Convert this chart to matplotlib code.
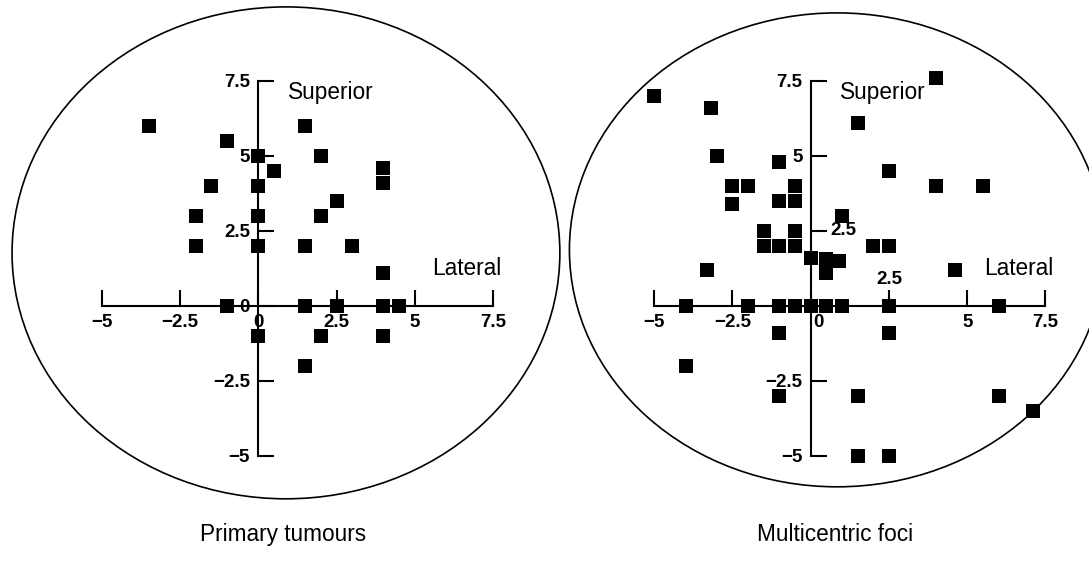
import matplotlib
matplotlib.use('Agg')
import matplotlib.pyplot as plt
from matplotlib.patches import Ellipse

plt.rcParams['font.family'] = ['Liberation Sans', 'DejaVu Sans']

# data (lateral, superior)
primary_x = [-3.5, -1, 0, 0.5, 1.5, 2, 4, 4, -1.5, 0, 2.5, -2, 0, 2, -2, 0, 1.5, 3, 4,
             -1, 1.5, 2.5, 4, 4.5, 0, 2, 4, 1.5]
primary_y = [6, 5.5, 5, 4.5, 6, 5, 4.6, 4.1, 4, 4, 3.5, 3, 3, 3, 2, 2, 2, 2, 1.1,
             0, 0, 0, 0, 0, -1, -1, -1, -2]

multi_x = [-5, -3.2, -3, -2.5, -2, -2.5, -1, -1, -0.5, -0.5, 4, 1.5, 2.5, 4, 5.5, 1,
           -1.5, -1.5, -1, -0.5, -0.5, 2, 2.5, 0, 0.5, 0.5, 0.9, -3.3, 4.6,
           -4, -2, -1, -0.5, 0, 0.5, 1, 2.5, 6,
           -1, 2.5, -4, -1, 1.5, 6, 7.1, 1.5, 2.5]
multi_y = [7, 6.6, 5, 4, 4, 3.4, 4.8, 3.5, 4, 3.5, 7.6, 6.1, 4.5, 4, 4, 3,
           2.5, 2, 2, 2.5, 2, 2, 2, 1.6, 1.55, 1.1, 1.5, 1.2, 1.2,
           0, 0, 0, 0, 0, 0, 0, 0, 0,
           -0.9, -0.9, -2, -3, -3, -3, -3.5, -5, -5]

ticks = [-5, -2.5, 0, 2.5, 5, 7.5]
tick_labels = ['−5', '−2.5', '0', '2.5', '5', '7.5']

TICK_FS = 13.5
TEXT_FS = 16.3

fig = plt.figure(figsize=(10.89, 5.78), dpi=100)


def draw_panel(ax, xs, ys, title, circle_center, circle_size, xlim):
    ax.set_facecolor('none')
    ax.set_xlim(*xlim)
    ax.set_ylim(-9.07, 10.2)
    for side in ['top', 'right']:
        ax.spines[side].set_visible(False)
    for side in ['left', 'bottom']:
        ax.spines[side].set_position(('data', 0))
        ax.spines[side].set_bounds(-5, 7.5)
        ax.spines[side].set_linewidth(1.5)
    ax.set_xticks(ticks)
    ax.set_yticks(ticks)
    ax.tick_params(direction='in', length=11.5, width=1.5, pad=6, labelsize=TICK_FS)

    ax.plot(xs, ys, 's', color='black', ms=10, mew=0, zorder=3, clip_on=False)

    # the outline drawn round each plot
    ax.add_patch(Ellipse(circle_center, circle_size[0], circle_size[1], fill=False,
                         lw=1.2, color='black', clip_on=False))

    ax.text(0.95, 7.12, 'Superior', fontsize=TEXT_FS, va='center', ha='left')
    ax.text(5.55, 1.25, 'Lateral', fontsize=TEXT_FS, va='center', ha='left')
    ax.text(0.78, -7.63, title, fontsize=TEXT_FS, va='center', ha='center')


# 1) left panel
ax1 = fig.add_axes([0, 0, 545 / 1089, 1])
draw_panel(ax1, primary_x, primary_y, 'Primary tumours', (0.885, 1.77), (17.5, 16.4),
           (-8.25, 9.16))
ax1.set_xticklabels(tick_labels, fontweight='bold')
ax1.set_yticklabels(tick_labels, fontweight='bold')

# 2) right panel (some labels sit oddly in the original)
ax2 = fig.add_axes([545 / 1089, 0, 544 / 1089, 1])
draw_panel(ax2, multi_x, multi_y, 'Multicentric foci', (0.84, 1.87), (17.1, 15.8),
           (-8.49, 8.89))
ax2.set_xticklabels(['−5', '−2.5', '', '', '5', '7.5'], fontweight='bold')
ax2.set_yticklabels(['−5', '−2.5', '', '', '5', '7.5'], fontweight='bold')
ax2.text(0.62, 2.5, '2.5', fontsize=TICK_FS, fontweight='bold', va='center', ha='left')
ax2.text(2.5, 0.87, '2.5', fontsize=TICK_FS, fontweight='bold', va='center', ha='center')
ax2.text(0.23, -0.55, '0', fontsize=TICK_FS, fontweight='bold', va='center', ha='center')

fig.savefig('out.png', dpi=100)
